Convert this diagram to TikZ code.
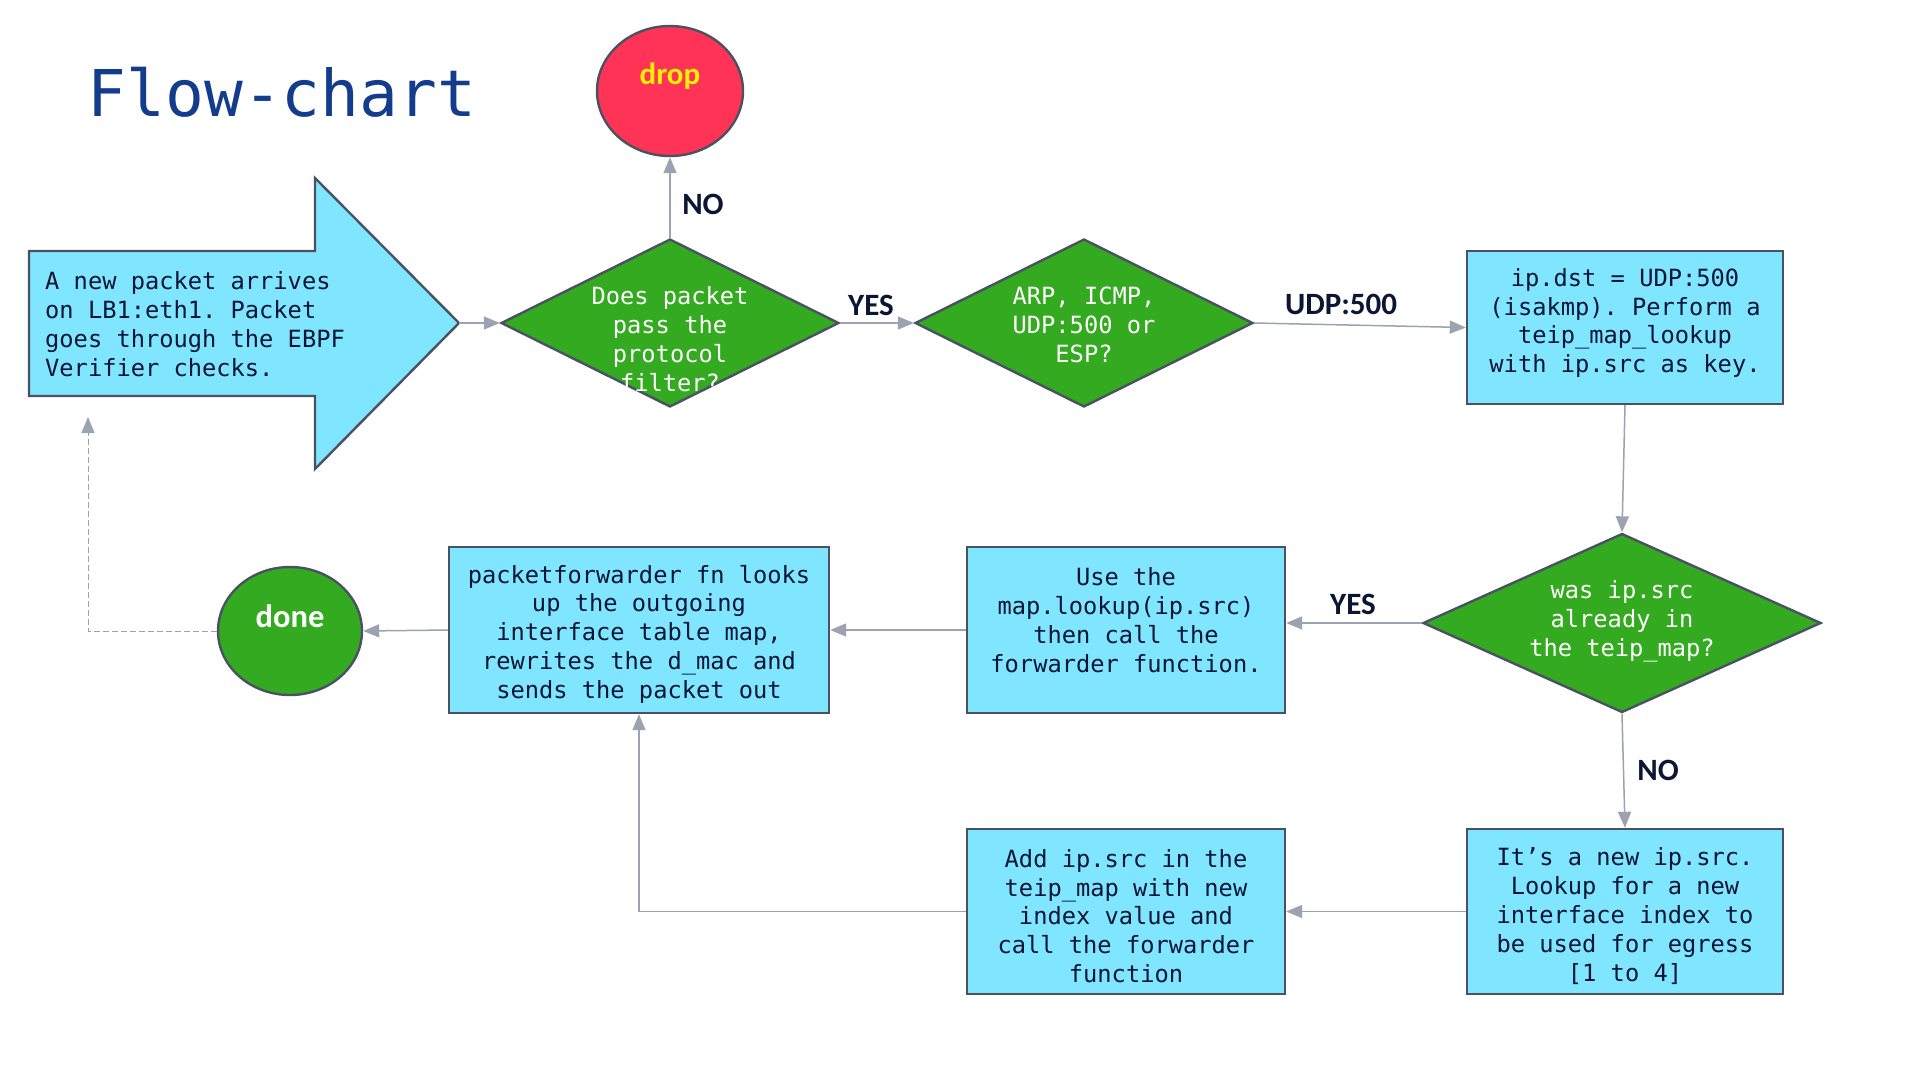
\documentclass[tikz,border=0pt]{standalone}
\usepackage{fontspec}
\setmonofont{DejaVu Sans Mono}
\newfontfamily\lblfont{Carlito}
\usetikzlibrary{shapes.geometric,arrows.meta}
\definecolor{boxblue}{RGB}{128,229,255}
\definecolor{dgreen}{RGB}{51,170,31}
\definecolor{dred}{RGB}{255,51,85}
\definecolor{edge}{RGB}{74,82,98}
\definecolor{conn}{RGB}{154,163,175}
\definecolor{navy}{RGB}{10,22,52}
\definecolor{titleblue}{RGB}{20,60,140}
\tikzset{
  shapeline/.style={draw=edge, line width=2.4pt},
  bluebox/.style={shapeline, fill=boxblue, rectangle, inner sep=0pt},
  decision/.style={shapeline, fill=dgreen, diamond, inner sep=0pt},
  terminal/.style={shapeline, ellipse, inner sep=0pt, minimum width=146pt, minimum height=130pt},
  bodytext/.style={font=\ttfamily\fontsize{23.7}{28.8}\selectfont, text=navy, align=center, inner sep=0pt},
  whitetext/.style={bodytext, text=white},
  lbl/.style={font=\lblfont\bfseries\fontsize{31}{36}\selectfont, text=navy, inner sep=0pt},
  conn/.style={draw=conn, line width=1.5pt, -{Triangle[length=16pt,width=13pt]}},
}
\begin{document}
\begin{tikzpicture}[x=1pt,y=-1pt]
\useasboundingbox (0,0) rectangle (1920,1080);
% title
\node[font=\ttfamily\fontsize{64.5}{70}\selectfont, text=titleblue, inner sep=0pt] (title) at (282,92) {Flow-chart};
% big arrow
\draw[shapeline, fill=boxblue] (29,251) -- (315,251) -- (315,178) -- (459,323) -- (315,469) -- (315,396) -- (29,396) -- cycle;
\coordinate (tip) at (459,323);
\node[bodytext, align=left, anchor=west] (t0) at (45,324) {A new packet arrives\\on LB1:eth1. Packet\\goes through the EBPF\\Verifier checks.};
% drop
\node[terminal, fill=dred] (drop) at (670,91) {};
\node[lbl, text=yellow] (droptxt) at (670,76) {drop};
% diamonds
\node[decision, minimum width=338pt, minimum height=168pt] (d1) at (670,323) {};
\node[whitetext] (d1t) at (670,339) {Does packet\\pass the\\protocol\\filter?};
\node[decision, minimum width=338pt, minimum height=168pt] (d2) at (1084,323) {};
\node[whitetext] (d2t) at (1084,325) {ARP, ICMP,\\UDP:500 or\\ESP?};
\node[decision, minimum width=398pt, minimum height=179pt] (d3) at (1622,623) {};
\node[whitetext] (d3t) at (1622,621) {was ip.src\\already in\\the teip\_map?};
% boxes
\node[bluebox, minimum width=316pt, minimum height=153pt] (b1) at (1625,327.5) {};
\node[bodytext] (b1t) at (1625,323) {ip.dst = UDP:500\\(isakmp). Perform a\\teip\_map\_lookup\\with ip.src as key.};
\node[bluebox, minimum width=318pt, minimum height=166pt] (b2) at (1126,630) {};
\node[bodytext] (b2t) at (1126,620) {Use the\\map.lookup(ip.src)\\then call the\\forwarder function.};
\node[bluebox, minimum width=380pt, minimum height=166pt] (b3) at (639,630) {};
\node[bodytext] (b3t) at (639,634) {packetforwarder fn looks\\up the outgoing\\interface table map,\\rewrites the d\_mac and\\sends the packet out};
\node[bluebox, minimum width=316pt, minimum height=165pt] (b4) at (1625,911.5) {};
\node[bodytext] (b4t) at (1625,916) {It’s a new ip.src.\\Lookup for a new\\interface index to\\be used for egress\\{[1 to 4]}};
\node[bluebox, minimum width=318pt, minimum height=165pt] (b5) at (1126,911.5) {};
\node[bodytext] (b5t) at (1126,916) {Add ip.src in the\\teip\_map with new\\index value and\\call the forwarder\\function};
% done
\node[terminal, fill=dgreen, minimum width=144pt, minimum height=128pt] (done) at (290,631) {};
\node[lbl, text=white, font=\lblfont\bfseries\fontsize{32.5}{36}\selectfont] (donetxt) at (290,616) {done};
\coordinate (ret) at (88,417);
% connectors
\draw[conn] (tip) -- (d1.west);
\draw[conn] (d1.north) -- (drop.south);
\draw[conn] (d1.east) -- (d2.west);
\draw[conn] (d2.east) -- (b1.west);
\draw[conn] (b1.south) -- (d3.north);
\draw[conn] (d3.west) -- (d3.west -| b2.east);
\draw[conn] (b2.west) -- (b3.east);
\draw[conn] (b3.west) -- (done.east);
\draw[conn] (d3.south) -- (b4.north);
\draw[conn] (b4.west) -- (b5.east);
\draw[conn] (b5.west) -| (b3.south);
\draw[conn, line width=1pt, dash pattern=on 6pt off 3pt] (done.west) -| (ret);
% labels
\node[lbl] (l1) at (703,204) {NO};
\node[lbl] (l2) at (871,305) {YES};
\node[lbl] (l3) at (1341,304) {UDP:500};
\node[lbl] (l4) at (1353,604) {YES};
\node[lbl] (l5) at (1658,770) {NO};
\end{tikzpicture}
\end{document}
